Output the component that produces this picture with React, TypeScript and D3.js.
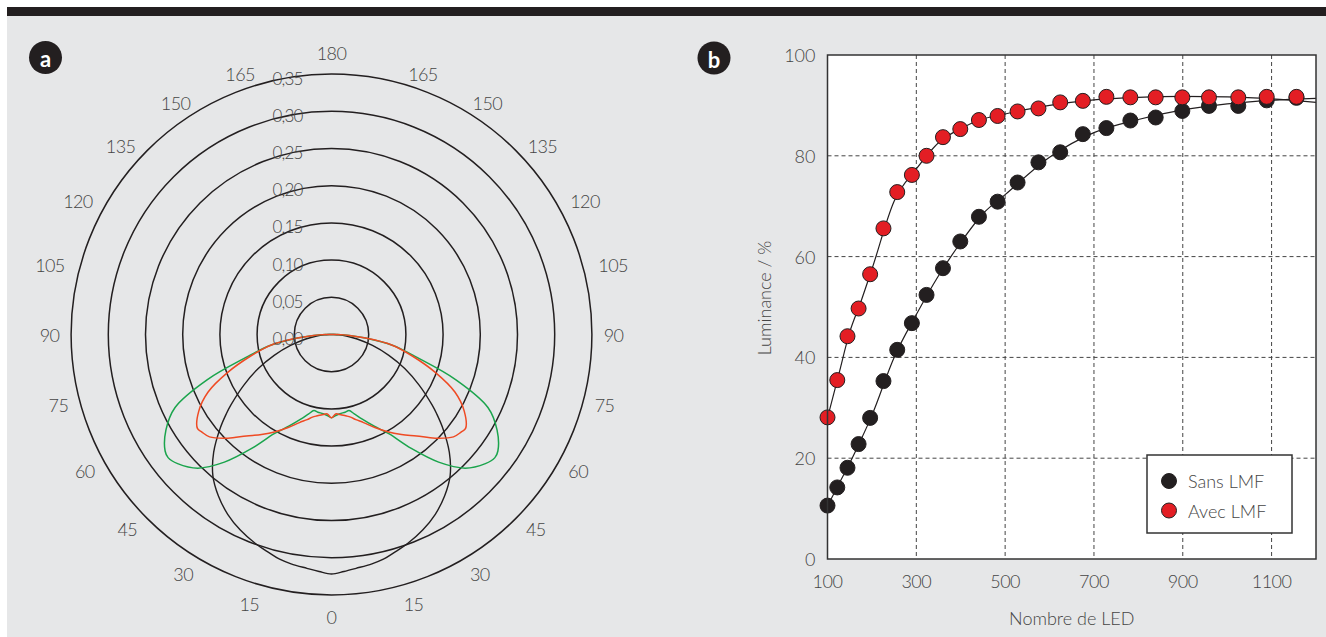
import React from "react";
import * as d3 from "d3";

// polar panel (a)
const ringValues = [0.05, 0.1, 0.15, 0.2, 0.25, 0.3, 0.35];
const ringLabels = ["0,00", "0,05", "0,10", "0,15", "0,20", "0,25", "0,30", "0,35"];
const angleTicks = [0, 15, 30, 45, 60, 75, 90, 105, 120, 135, 150, 165, 180];

// half curves, angle measured from the downward axis (symmetric on both sides)
const curveAngles = [0, 3, 6, 10, 13, 16, 20, 25, 30, 35, 40, 45, 50, 53, 55, 60, 65, 70, 75, 80, 84, 87, 89, 90];
const blackCurve = [0.322, 0.319, 0.316, 0.313, 0.31, 0.305, 0.299, 0.29, 0.279, 0.265, 0.248, 0.224, 0.195, 0.177, 0.165, 0.136, 0.109, 0.082, 0.057, 0.035, 0.02, 0.01, 0.003, 0];
const redCurve = [0.112, 0.107, 0.108, 0.111, 0.114, 0.119, 0.126, 0.138, 0.151, 0.164, 0.178, 0.197, 0.214, 0.218, 0.22, 0.206, 0.183, 0.148, 0.113, 0.083, 0.046, 0.024, 0.008, 0];
const greenCurve = [0.112, 0.109, 0.107, 0.106, 0.105, 0.111, 0.121, 0.136, 0.154, 0.187, 0.224, 0.254, 0.27, 0.275, 0.273, 0.257, 0.232, 0.178, 0.119, 0.083, 0.046, 0.024, 0.008, 0];

// luminance panel (b)
const ledCounts = [100, 122, 145, 170, 196, 226, 257, 290, 323, 360, 399, 441, 483, 528, 575, 624, 675, 728, 782, 839, 899, 959, 1025, 1089, 1156];
const sansLMF = [10.6, 14.2, 18.1, 22.8, 28.0, 35.3, 41.5, 46.8, 52.4, 57.7, 63.0, 67.9, 70.9, 74.7, 78.7, 80.7, 84.3, 85.5, 87.0, 87.6, 88.9, 89.9, 89.9, 91.0, 91.5];
const avecLMF = [28.1, 35.5, 44.2, 49.7, 56.5, 65.6, 72.8, 76.2, 80.0, 83.7, 85.3, 87.1, 87.9, 88.8, 89.4, 90.6, 90.9, 91.7, 91.6, 91.6, 91.6, 91.6, 91.6, 91.7, 91.7];
const fitX = [100, 125, 150, 175, 200, 250, 300, 350, 400, 450, 500, 600, 700, 800, 900, 1000, 1100, 1200];
const fitSans = [10.5, 14.8, 19, 23.6, 28.5, 40, 48.5, 56.2, 62.8, 68.5, 72.3, 79.7, 84.6, 87.2, 89.1, 90.3, 91.0, 91.4];
const fitAvec = [28, 36.5, 45, 51, 57.5, 71, 77.4, 82.6, 85.4, 87.3, 88.3, 90, 91.1, 91.6, 91.8, 91.7, 91.3, 90.6];
const xTicks = [100, 300, 500, 700, 900, 1100];
const yTicks = [0, 20, 40, 60, 80, 100];
const legendItems = ["Sans LMF", "Avec LMF"];

const FONT = "Lato, 'Open Sans', sans-serif";
const TEXT = "#454545";
const BG = "#e6e7e8";
const RED = "#e31e24";
const DARK = "#231f20";

function PolarPanel() {
  const cx = 331.5;
  const cy = 334.5;
  const r = d3.scaleLinear().domain([0, 0.35]).range([0, 260.4]);
  const rad = (d: number) => (d * Math.PI) / 180;

  const buildPoints = (vals: number[]) => {
    const pts: [number, number][] = [];
    for (let i = curveAngles.length - 1; i >= 0; i--) pts.push([Math.PI + rad(curveAngles[i]), vals[i]]);
    for (let i = 1; i < curveAngles.length; i++) pts.push([Math.PI - rad(curveAngles[i]), vals[i]]);
    return pts;
  };
  const radial = d3
    .lineRadial<[number, number]>()
    .angle((d) => d[0])
    .radius((d) => r(d[1]))
    .curve(d3.curveCatmullRom.alpha(0.5));

  // angle labels sit a little off the nominal direction, pushed towards 90
  const angleLabels: { x: number; y: number; t: number }[] = [];
  angleTicks.forEach((t) => {
    let phi = t;
    let labelR = 282;
    if (t > 0 && t < 90) phi = t + 2 * Math.abs(Math.cos(rad(t)));
    if (t > 90 && t < 180) {
      phi = t - 4.5 * Math.abs(Math.cos(rad(t)));
      labelR = 276 + (165 - t) * 0.233;
    }
    const dx = labelR * Math.sin(rad(phi));
    const dy = labelR * Math.cos(rad(phi));
    if (t === 0 || t === 180) angleLabels.push({ x: cx, y: cy + dy, t });
    else {
      angleLabels.push({ x: cx - dx, y: cy + dy, t });
      angleLabels.push({ x: cx + dx, y: cy + dy, t });
    }
  });

  return (
    <g>
      <g transform={`translate(${cx},${cy})`}>
        {ringValues.map((v) => (
          <circle key={v} r={r(v)} fill="none" stroke={DARK} strokeWidth={1.5} />
        ))}
        <path d={radial(buildPoints(blackCurve)) || ""} fill="none" stroke={DARK} strokeWidth={1.4} />
        <path d={radial(buildPoints(greenCurve)) || ""} fill="none" stroke="#1aa44c" strokeWidth={1.5} />
        <path d={radial(buildPoints(redCurve)) || ""} fill="none" stroke="#ef4a23" strokeWidth={1.5} />
      </g>
      {ringLabels.map((lab, i) => (
        <text
          key={lab}
          x={cx - 44}
          y={cy - r(i * 0.05) + 4}
          textAnchor="middle"
          dominantBaseline="central"
          fontSize={17}
          fill={TEXT}
          fontFamily={FONT}
          fontWeight={300}
          letterSpacing={-0.8}
        >
          {lab}
        </text>
      ))}
      {angleLabels.map((d, i) => (
        <text
          key={i}
          x={d.x}
          y={d.y}
          textAnchor="middle"
          dominantBaseline="central"
          fontSize={18}
          fill={TEXT}
          fontFamily={FONT}
          fontWeight={300}
          letterSpacing={-0.6}
        >
          {d.t}
        </text>
      ))}
    </g>
  );
}

function LuminancePanel() {
  const left = 827.5;
  const right = 1316;
  const top = 55;
  const bottom = 559;
  const x = d3.scaleLinear().domain([100, 1200]).range([left, right]);
  const y = d3.scaleLinear().domain([0, 100]).range([bottom, top]);
  const fitLine = d3
    .line<number>()
    .x((_, i) => x(fitX[i]))
    .y((d) => y(d))
    .curve(d3.curveMonotoneX);

  const series = [
    { name: legendItems[0], vals: sansLMF, fill: DARK },
    { name: legendItems[1], vals: avecLMF, fill: RED },
  ];

  return (
    <g>
      <defs>
        <clipPath id="plotClip">
          <rect x={left} y={top} width={right - left} height={bottom - top} />
        </clipPath>
      </defs>
      <rect x={left} y={top} width={right - left} height={bottom - top} fill="#fff" />
      {xTicks.slice(1).map((t) => (
        <line key={t} x1={x(t)} x2={x(t)} y1={top} y2={bottom} stroke="#444" strokeWidth={1} strokeDasharray="4,3" />
      ))}
      {yTicks.slice(1, -1).map((t) => (
        <line key={t} x1={left} x2={right} y1={y(t)} y2={y(t)} stroke="#444" strokeWidth={1} strokeDasharray="4,3" />
      ))}
      <g clipPath="url(#plotClip)">
        <path d={fitLine(fitSans) || ""} fill="none" stroke={DARK} strokeWidth={1.2} />
        <path d={fitLine(fitAvec) || ""} fill="none" stroke={DARK} strokeWidth={1.2} />
      </g>
      {series.map((s) =>
        s.vals.map((v, i) => (
          <circle key={s.name + i} cx={x(ledCounts[i])} cy={y(v)} r={7.5} fill={s.fill} stroke={DARK} strokeWidth={1} />
        ))
      )}
      <rect x={left} y={top} width={right - left} height={bottom - top} fill="none" stroke="#333" strokeWidth={1.5} />
      {yTicks.map((t) => (
        <text key={t} x={left - 12} y={y(t)} textAnchor="end" dominantBaseline="central" fontSize={18} fill={TEXT} fontFamily={FONT} fontWeight={300}>
          {t}
        </text>
      ))}
      {xTicks.map((t) => (
        <text key={t} x={x(t)} y={bottom + 22} textAnchor="middle" dominantBaseline="central" fontSize={18} fill={TEXT} fontFamily={FONT} fontWeight={300} letterSpacing={-0.5}>
          {t}
        </text>
      ))}
      <text x={(left + right) / 2} y={bottom + 59} textAnchor="middle" dominantBaseline="central" fontSize={18} fill={TEXT} fontFamily={FONT} fontWeight={300}>
        Nombre de LED
      </text>
      <text
        transform={`translate(764,${(top + bottom) / 2 - 9}) rotate(-90)`}
        textAnchor="middle"
        dominantBaseline="central"
        fontSize={18}
        fill={TEXT}
        fontFamily={FONT}
        fontWeight={300}
      >
        Luminance / %
      </text>
      <g transform="translate(1147,455)">
        <rect width={145} height={78} fill="#fff" stroke="#333" strokeWidth={1.5} />
        {series.map((s, i) => (
          <g key={s.name} transform={`translate(22,${26 + i * 29.5})`}>
            <circle r={7.5} fill={s.fill} stroke={DARK} strokeWidth={1} />
            <text x={19} dominantBaseline="central" fontSize={18} fill={TEXT} fontFamily={FONT} fontWeight={300}>
              {s.name}
            </text>
          </g>
        ))}
      </g>
    </g>
  );
}

function Badge({ cx, cy, label }: { cx: number; cy: number; label: string }) {
  return (
    <g>
      <circle cx={cx} cy={cy} r={16.5} fill={DARK} />
      <text x={cx} y={cy + 1} textAnchor="middle" dominantBaseline="central" fontSize={22} fontWeight={700} fill="#fff" fontFamily={FONT}>
        {label}
      </text>
    </g>
  );
}

export default function App() {
  const W = 1326;
  const H = 637;
  return (
    <svg width={W} height={H} style={{ position: "absolute", left: 0, top: 0, background: "#fff" }}>
      <rect x={7} y={16} width={W - 7} height={H - 16} fill={BG} />
      <rect x={7} y={7} width={W - 7} height={9} fill={DARK} />
      <Badge cx={45.5} cy={57.5} label="a" />
      <Badge cx={714} cy={58} label="b" />
      <PolarPanel />
      <LuminancePanel />
    </svg>
  );
}
